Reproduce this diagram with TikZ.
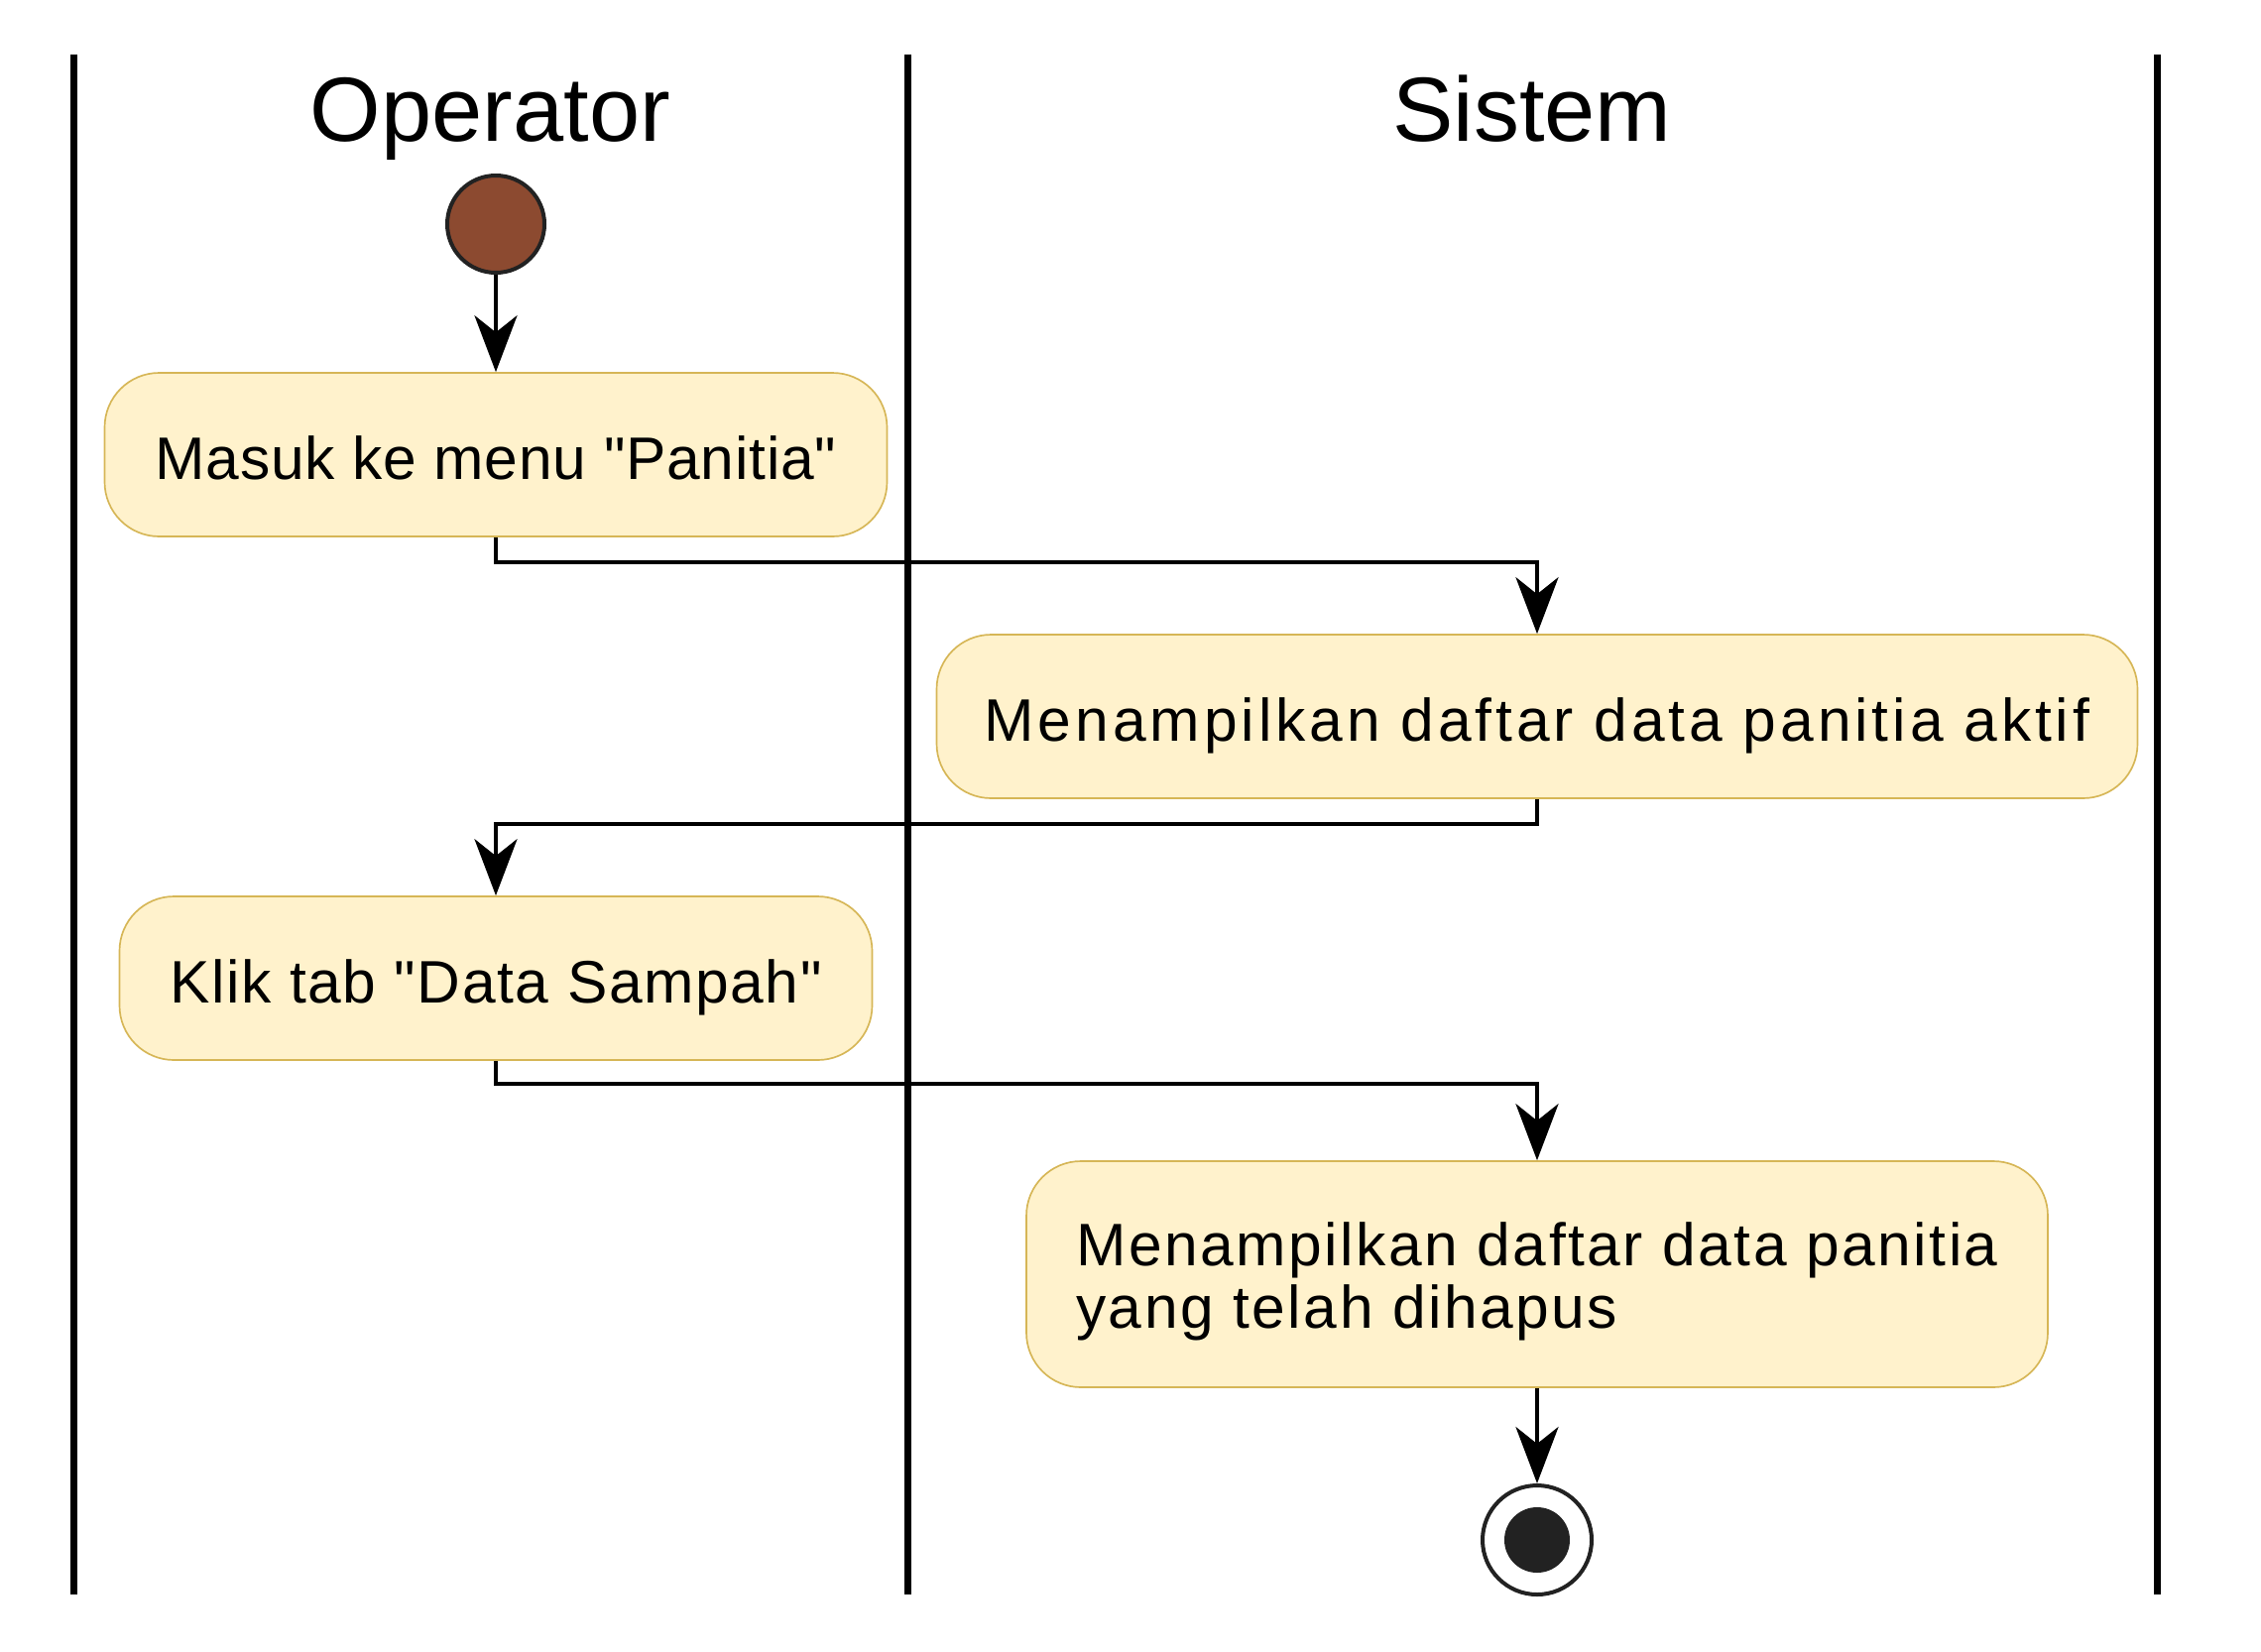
\documentclass[tikz,border=0pt]{standalone}
\usepackage{fontspec}
\setmainfont{Liberation Sans}[Ligatures=TeXOff]
\usepackage{tikz}
\usetikzlibrary{arrows.meta,positioning}

\definecolor{actfill}{HTML}{FFF2CC}
\definecolor{actline}{HTML}{D6B656}
\definecolor{startfill}{HTML}{8C4A30}
\definecolor{dotdark}{HTML}{222222}

\begin{document}
\begin{tikzpicture}[
  x=0.3pt, y=-0.3pt,
  lane/.style={line width=2.1pt},
  title/.style={anchor=base, font=\fontsize{27.6}{30}\selectfont},
  action/.style={draw=actline, fill=actfill, line width=0.5pt, rounded corners=16.5pt, minimum height=49.5pt, inner sep=0pt, text height=14.8pt, text depth=0pt, align=center, font=\fontsize{18.15}{18.9}\selectfont},
  startnode/.style={circle, draw=dotdark, fill=startfill, line width=1.2pt, minimum size=29.4pt, inner sep=0pt},
  endnode/.style={circle, draw=dotdark, fill=white, line width=1.2pt, minimum size=33pt, inner sep=0pt},
  enddot/.style={circle, fill=dotdark, minimum size=19.8pt, inner sep=0pt},
  arr/.style={-{Stealth[length=17.1pt, width=12.9pt, inset=5.1pt]}, line width=1.35pt}
]
\useasboundingbox (0,0) rectangle (2280,1665);

% swimlanes
\draw[lane] (74,55) -- (74,1608);
\draw[lane] (915,55) -- (915,1608);
\draw[lane] (2175,55) -- (2175,1608);
\node[title] (opr) at (494.5,142) {Operator};
\node[title] (sys) at (1545,142) {Sistem};

\node[startnode] (start) at (500,226) {};
\node[action, minimum width=236.7pt] (masuk) at (500,458.5) {\addfontfeature{LetterSpace=1.3}Masuk ke menu "Panitia"};
\node[action, minimum width=363.3pt] (aktif) at (1550,722.5) {\addfontfeature{LetterSpace=6.5}Menampilkan daftar data panitia aktif};
\node[action, minimum width=227.7pt] (klik) at (500,986.5) {\addfontfeature{LetterSpace=2.7}Klik tab "Data Sampah"};
\node[action, minimum width=309pt, minimum height=68.4pt, text height={}, text depth={}, align=left] (hapus) at (1550,1285) {\addfontfeature{LetterSpace=4.2}\rule{0pt}{17.6pt}Menampilkan daftar data panitia\\\addfontfeature{LetterSpace=4.2}yang telah dihapus};
\node[endnode] (stop) at (1550,1553) {};
\node[enddot] (stopdot) at (stop.center) {};

\draw[arr] (start) -- (masuk);
\draw[arr] (masuk.south) -- ++(0,25) -| (aktif.north);
\draw[arr] (aktif.south) -- ++(0,25) -| (klik.north);
\draw[arr] (klik.south) -- ++(0,23) -| (hapus.north);
\draw[arr] (hapus) -- (stop);
\end{tikzpicture}
\end{document}
